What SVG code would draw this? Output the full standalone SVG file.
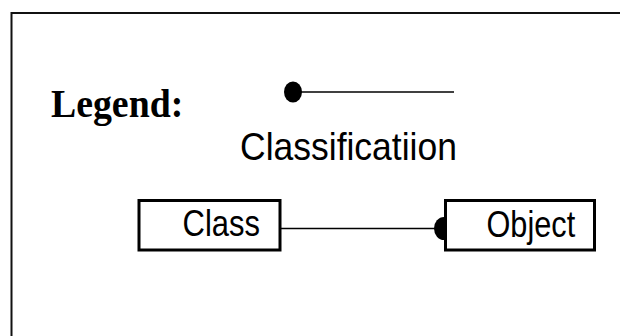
<svg xmlns="http://www.w3.org/2000/svg" width="620" height="336" viewBox="0 0 620 336">
  <defs>
    <style>
      .frame { fill: none; stroke: #111; stroke-width: 2; }
      .box { fill: #fff; stroke: #000; stroke-width: 3; }
      .edge { stroke: #000; stroke-width: 1.5; fill: none; }
      .dot { fill: #000; }
      .sans { font-family: "Liberation Sans", Arial, sans-serif; fill: #000; }
      .serif { font-family: "Liberation Serif", "Times New Roman", serif; font-weight: bold; fill: #000; }
    </style>
  </defs>
  <rect width="620" height="336" fill="#fff"/>
  <!-- outer frame, open to the right and bottom -->
  <rect class="frame" x="11.5" y="13" width="640" height="360"/>

  <g id="legend">
    <text class="serif" transform="translate(51 116.5) scale(1 1.06)" font-size="37.8">Legend:</text>
  </g>

  <g id="classification-key">
    <line class="edge" x1="293" y1="92" x2="454" y2="92"/>
    <ellipse class="dot" cx="293" cy="92" rx="9" ry="10.5"/>
    <text class="sans" transform="translate(240 160) scale(1 1.08)" font-size="35.5">Classificatiion</text>
  </g>

  <g id="connectors">
    <line class="edge" x1="281" y1="228.5" x2="444" y2="228.5"/>
    <ellipse class="dot" cx="444" cy="228.5" rx="10" ry="11.5"/>
  </g>

  <g id="class">
    <rect class="box" x="139" y="200.5" width="141" height="49.5"/>
    <text class="sans" transform="translate(182.5 236) scale(1 1.2)" font-size="31">Class</text>
  </g>

  <g id="object">
    <rect class="box" x="445.5" y="200.5" width="149" height="49.5"/>
    <text class="sans" transform="translate(486.5 236.5) scale(1 1.2)" font-size="30.7">Object</text>
  </g>
</svg>
